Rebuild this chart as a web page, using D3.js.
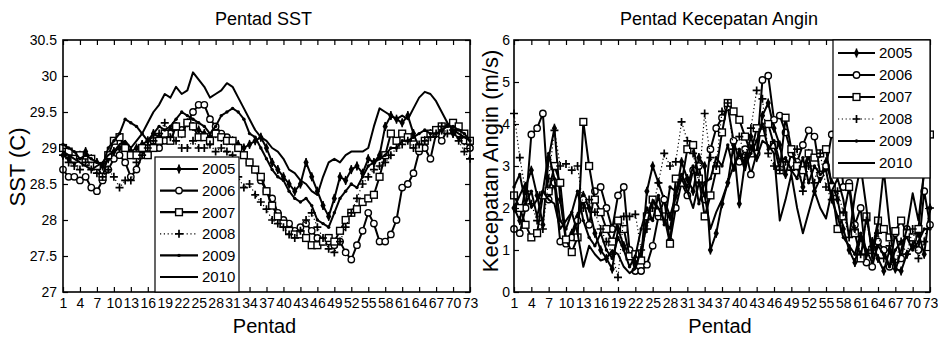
<!DOCTYPE html>
<html><head><meta charset="utf-8">
<script src="https://cdn.jsdelivr.net/npm/d3@7"></script>
<style>body{margin:0;background:#fff}</style></head>
<body><svg id="c" width="938" height="343"></svg>
<script>
const years = ["2005","2006","2007","2008","2009","2010"];
const pentadTicks = [1,4,7,10,13,16,19,22,25,28,31,34,37,40,43,46,49,52,55,58,61,64,67,70,73];
const sstTicks = [27,27.5,28,28.5,29,29.5,30,30.5];
const windTicks = [0,1,2,3,4,5,6];

const sst2005 = [28.9,28.85,28.8,28.9,28.95,28.85,28.8,28.75,28.85,28.95,
29.0,29.05,28.95,29.0,29.05,29.1,29.2,29.15,29.2,29.25,
29.3,29.2,29.35,29.3,29.25,29.2,29.15,29.2,29.15,29.1,
29.1,29.05,29.0,29.05,29.1,29.15,29.0,28.8,28.7,28.6,
28.5,28.4,28.5,28.8,28.6,28.4,28.2,28.05,28.3,28.6,
28.55,28.7,28.75,28.65,28.85,28.8,28.9,29.3,29.45,29.4,
29.35,29.45,29.2,29.0,29.1,29.2,29.2,29.25,29.3,29.2,
29.15,29.1,29.05];
const sst2006 = [28.7,28.6,28.6,28.55,28.6,28.45,28.4,28.55,28.7,28.85,
28.9,28.8,28.6,28.7,28.9,29.0,29.1,29.0,29.1,29.2,
29.3,29.25,29.35,29.5,29.6,29.6,29.4,29.3,29.2,29.15,
29.1,29.0,28.9,28.8,28.7,28.55,28.4,28.3,28.1,28.0,
27.95,27.85,27.9,27.95,27.85,27.75,27.7,27.7,27.65,27.7,
27.55,27.45,27.65,27.85,28.1,27.95,27.7,27.7,27.8,28.0,
28.45,28.5,28.65,28.95,29.0,28.85,29.2,29.1,29.25,29.3,
29.2,29.1,29.0];
const sst2007 = [29.0,28.95,28.85,28.9,28.8,28.85,28.75,28.6,28.9,29.1,
29.15,29.0,28.9,28.9,29.0,28.9,29.0,29.1,29.2,29.1,
29.3,29.2,29.35,29.3,29.15,29.15,29.1,29.2,29.15,29.1,
29.1,29.0,28.9,28.8,28.7,28.6,28.4,28.2,28.05,27.95,
27.85,27.8,27.8,27.75,27.65,27.65,27.7,27.75,27.7,27.85,
28.0,28.1,28.15,28.25,28.3,28.35,28.6,28.9,29.2,29.1,
29.2,29.15,29.05,29.0,29.1,29.2,29.25,29.3,29.25,29.35,
29.3,29.2,29.1];
const sst2008 = [28.9,28.8,28.75,28.7,28.8,28.7,28.65,28.6,28.7,28.6,
28.45,28.55,28.55,28.8,28.9,29.0,29.1,29.2,29.35,29.15,
29.1,29.0,29.0,29.1,29.0,29.0,29.05,28.95,29.0,28.95,
28.9,28.6,28.45,28.5,28.35,28.25,28.15,28.0,27.95,27.9,
27.8,27.75,27.85,28.0,28.1,27.9,27.75,27.6,27.55,27.7,
27.9,28.1,28.3,28.5,28.6,28.7,28.75,28.8,28.9,29.0,
29.05,29.1,29.0,29.05,29.1,29.15,29.2,29.3,29.2,29.25,
29.1,28.95,28.85];
const sst2009 = [29.05,29.0,28.95,28.85,28.9,28.85,28.8,28.75,29.0,29.1,
29.2,29.4,29.35,29.3,29.2,29.1,29.2,29.3,29.25,29.3,
29.4,29.5,29.45,29.4,29.35,29.3,29.2,29.3,29.45,29.5,
29.55,29.5,29.4,29.2,29.15,29.0,28.85,28.7,28.6,28.55,
28.4,28.3,28.25,28.3,28.2,28.0,27.95,27.9,28.1,28.3,
28.4,28.5,28.45,28.6,28.75,28.8,28.85,28.9,29.0,29.0,
29.1,29.1,29.15,29.2,29.25,29.2,29.2,29.25,29.3,29.3,
29.25,29.2,29.1];
const sst2010 = [28.95,28.9,28.85,28.8,28.75,28.7,28.75,28.8,28.9,28.95,
29.05,29.1,29.0,29.1,29.2,29.35,29.5,29.6,29.75,29.7,
29.85,29.75,29.8,30.05,29.95,29.85,29.7,29.75,29.8,29.9,
29.85,29.7,29.55,29.4,29.25,29.15,29.1,29.0,28.95,28.85,
28.7,28.65,28.55,28.5,28.4,28.35,28.6,28.8,28.85,28.8,
28.9,28.95,28.95,28.95,29.0,29.3,29.55,29.5,29.45,29.4,
29.45,29.4,29.55,29.7,29.78,29.75,29.65,29.5,29.35,29.25,
29.2,29.15,29.1];

const wind2005 = [2.0,1.7,2.5,2.9,2.3,1.6,3.2,3.9,2.2,1.2,
1.4,1.8,2.3,2.0,1.4,1.0,0.8,0.55,1.5,1.1,
0.9,0.7,0.8,2.4,3.0,2.6,2.2,1.8,2.3,3.1,
2.7,2.4,3.2,3.0,1.0,1.4,2.1,2.6,3.5,2.1,
3.1,3.7,3.2,4.2,4.5,3.9,3.5,2.8,3.3,3.0,
2.5,3.3,2.4,2.7,3.1,2.6,2.2,1.5,1.0,0.7,
1.3,0.9,1.2,0.8,0.5,1.0,0.55,0.5,0.9,1.1,
1.4,0.9,2.0];
const wind2006 = [1.5,1.4,2.0,3.75,3.9,4.25,2.2,2.6,1.2,1.15,
1.3,1.7,2.2,1.6,2.4,2.5,2.0,1.5,2.3,2.5,
1.0,0.5,0.5,0.65,1.1,1.8,2.2,1.2,2.0,2.6,
2.3,2.9,3.0,2.2,3.4,3.9,4.15,4.4,3.6,3.1,
3.4,2.8,3.3,5.05,5.15,4.1,4.2,3.8,3.3,3.1,
3.5,3.85,3.7,2.8,3.0,3.75,4.0,2.5,2.6,1.6,
2.0,0.7,0.6,1.2,1.0,0.6,1.4,0.8,1.5,1.3,
1.0,2.4,1.6];
const wind2007 = [2.3,2.0,1.6,1.3,1.4,2.3,2.4,3.0,2.6,1.25,
0.95,1.3,4.05,3.0,2.2,1.9,1.5,1.2,1.7,1.5,
0.85,0.9,0.75,1.8,2.2,1.9,1.8,1.15,2.7,2.6,
3.4,3.5,2.7,1.8,2.3,2.9,3.8,4.5,4.3,4.1,
3.7,3.3,3.9,3.8,4.0,3.5,2.9,4.15,3.4,3.0,
2.9,3.3,3.2,3.3,3.4,2.5,1.5,1.8,2.5,1.4,
0.8,1.8,1.0,1.7,1.5,1.3,1.45,1.7,1.4,1.3,
1.5,2.9,3.75];
const wind2008 = [4.25,3.2,2.4,2.1,1.7,1.5,2.7,3.85,3.0,3.05,
2.9,3.0,2.0,2.2,1.9,1.5,1.2,0.9,0.35,1.8,
1.8,1.85,1.0,1.5,2.0,2.6,3.3,3.0,3.1,4.05,
3.6,3.3,2.6,4.25,3.2,3.0,4.3,4.5,3.4,3.7,
3.2,3.9,4.8,4.6,3.3,3.0,2.9,3.1,2.9,3.4,
2.4,3.0,2.6,3.3,2.5,2.2,2.4,1.9,1.3,1.5,
0.9,1.7,1.0,1.4,0.8,1.1,0.7,1.2,0.9,1.5,
0.8,1.2,2.0];
const wind2009 = [2.5,2.8,2.1,2.4,1.8,2.4,3.3,2.7,1.7,1.5,
1.9,2.4,1.7,1.3,1.1,1.4,1.0,0.8,1.3,1.0,
0.6,0.85,1.5,2.0,1.7,2.3,1.6,2.5,2.4,2.8,
2.5,3.0,2.1,2.6,2.7,3.2,3.0,3.5,2.9,3.4,
3.0,3.3,3.6,4.0,3.4,3.6,3.1,3.2,2.9,2.7,
3.2,2.6,3.0,2.8,2.9,2.2,1.8,1.3,1.1,0.9,
1.4,1.0,0.7,1.1,0.9,0.6,1.0,1.2,1.3,1.0,
1.2,1.5,1.5];
const wind2010 = [2.0,2.3,2.6,2.0,2.2,2.4,2.2,2.1,1.5,1.7,
1.9,1.4,0.6,1.1,0.9,0.75,0.8,1.0,0.9,0.6,
0.45,0.55,1.0,1.6,2.2,2.0,1.7,1.5,2.3,2.7,
2.4,2.0,2.6,2.3,1.5,1.9,2.2,2.6,3.0,3.3,
2.9,3.5,3.2,3.6,3.5,3.3,1.7,2.2,2.8,2.0,
1.4,1.9,2.4,2.0,1.75,2.4,2.7,2.2,1.3,2.3,
3.0,2.0,0.8,1.6,2.9,1.6,0.5,1.0,1.5,2.35,
1.7,2.9,3.0];

const sstSeries = [sst2005,sst2006,sst2007,sst2008,sst2009,sst2010];
const windSeries = [wind2005,wind2006,wind2007,wind2008,wind2009,wind2010];

const styles = [
  {marker:"diamond", dash:null},
  {marker:"circle", dash:null},
  {marker:"square", dash:null},
  {marker:"plus", dash:"1.2,2.6"},
  {marker:"dot", dash:null},
  {marker:null, dash:null}
];

const svg = d3.select("#c");
const tickFont = "'Liberation Sans Narrow','Arial Narrow',sans-serif";
const labelFont = "'Liberation Sans',Arial,sans-serif";

function drawMarker(g, type, x, y) {
  if (type === "circle") {
    g.append("circle").attr("cx", x).attr("cy", y).attr("r", 3.2)
      .attr("fill", "#fff").attr("stroke", "#000").attr("stroke-width", 1.4);
  } else if (type === "square") {
    g.append("rect").attr("x", x - 3.4).attr("y", y - 3.4).attr("width", 6.8).attr("height", 6.8)
      .attr("fill", "#fff").attr("stroke", "#000").attr("stroke-width", 1.4);
  } else if (type === "plus") {
    g.append("path").attr("d", `M${x-4},${y}H${x+4}M${x},${y-4}V${y+4}`)
      .attr("stroke", "#000").attr("stroke-width", 1.7);
  } else if (type === "diamond") {
    g.append("path").attr("d", d3.symbol(d3.symbolDiamond, 24)()).attr("transform", `translate(${x},${y})`)
      .attr("fill", "#000");
    g.append("path").attr("d", `M${x},${y-4.5}V${y+4.5}`).attr("stroke", "#000").attr("stroke-width", 1.5);
  } else if (type === "dot") {
    g.append("circle").attr("cx", x).attr("cy", y).attr("r", 1.7).attr("fill", "#000");
  }
}

function panel(cfg) {
  const x = d3.scaleLinear().domain([1, 73]).range([cfg.x0, cfg.x1]);
  const y = d3.scaleLinear().domain(cfg.yDomain).range([cfg.y1, cfg.y0]);
  const g = svg.append("g");
  const clipId = "clip" + cfg.id;
  svg.append("clipPath").attr("id", clipId).append("rect")
    .attr("x", cfg.x0 - 4).attr("y", cfg.y0).attr("width", cfg.x1 - cfg.x0 + 8).attr("height", cfg.y1 - cfg.y0);

  const plot = g.append("g").attr("clip-path", `url(#${clipId})`);
  const line = d3.line().x((d, i) => x(i + 1)).y(d => y(d));
  cfg.series.forEach((s, k) => {
    const st = styles[k];
    plot.append("path").attr("d", line(s)).attr("fill", "none").attr("stroke", "#000")
      .attr("stroke-width", st.dash ? 1.2 : 2.0).attr("stroke-dasharray", st.dash)
      .attr("stroke-linejoin", "round");
    if (st.marker) s.forEach((v, i) => drawMarker(plot, st.marker, x(i + 1), y(v)));
  });

  const fmt = v => (v % 1 === 0 ? String(v) : v.toFixed(1));
  const axB = g.append("g").attr("transform", `translate(0,${cfg.y1})`)
    .call(d3.axisBottom(x).tickValues(pentadTicks).tickSizeInner(-5).tickSizeOuter(0).tickPadding(10));
  const axT = g.append("g").attr("transform", `translate(0,${cfg.y0})`)
    .call(d3.axisTop(x).tickValues(pentadTicks).tickSizeInner(-5).tickSizeOuter(0).tickFormat(""));
  const axL = g.append("g").attr("transform", `translate(${cfg.x0},0)`)
    .call(d3.axisLeft(y).tickValues(cfg.yTicks).tickSizeInner(-5).tickSizeOuter(0).tickPadding(cfg.yPad).tickFormat(fmt));
  const axR = g.append("g").attr("transform", `translate(${cfg.x1},0)`)
    .call(d3.axisRight(y).tickValues(cfg.yTicks).tickSizeInner(-5).tickSizeOuter(0).tickFormat(""));
  [axB, axT, axL, axR].forEach(a => {
    a.select(".domain").remove();
    a.selectAll("line").attr("stroke", "#000").attr("stroke-width", 1.2);
    a.selectAll("text").attr("font-family", tickFont).attr("font-size", 14).attr("fill", "#000");
  });
  axB.selectAll("text").attr("dy", "0.45em");
  g.append("rect").attr("x", cfg.x0).attr("y", cfg.y0).attr("width", cfg.x1 - cfg.x0).attr("height", cfg.y1 - cfg.y0)
    .attr("fill", "none").attr("stroke", "#000").attr("stroke-width", 1.6);

  const L = cfg.legend;
  const lg = g.append("g");
  lg.append("rect").attr("x", L.x).attr("y", L.y).attr("width", L.w).attr("height", L.h)
    .attr("fill", "#fff").attr("stroke", "#000").attr("stroke-width", 1.2);
  years.forEach((yr, k) => {
    const yy = L.y + L.first + k * L.step;
    const st = styles[k];
    lg.append("line").attr("x1", L.x + 5).attr("x2", L.x + 5 + L.len).attr("y1", yy).attr("y2", yy)
      .attr("stroke", "#000").attr("stroke-width", st.dash ? 1.2 : 2.2).attr("stroke-dasharray", st.dash);
    if (st.marker) drawMarker(lg, st.marker, L.x + 5 + L.len / 2, yy);
    lg.append("text").attr("x", L.x + 9 + L.len).attr("y", yy).attr("dy", "0.36em")
      .attr("font-family", tickFont).attr("font-size", 15).text(yr);
  });

  const cx = (cfg.x0 + cfg.x1) / 2;
  g.append("text").attr("x", cx - 3).attr("y", 25).attr("text-anchor", "middle")
    .attr("font-family", labelFont).attr("font-size", 18).text(cfg.title);
  g.append("text").attr("x", cx - 2).attr("y", 333).attr("text-anchor", "middle")
    .attr("font-family", labelFont).attr("font-size", 20).text("Pentad");
  g.append("text").attr("transform", `translate(${cfg.ylx},${cfg.yly}) rotate(-90)`).attr("text-anchor", "middle")
    .attr("font-family", labelFont).attr("font-size", cfg.ylSize).text(cfg.ylabel);
}

panel({id: "a", x0: 63, x1: 470, y0: 40, y1: 292, yDomain: [27, 30.5], yTicks: sstTicks, yPad: 6,
  series: sstSeries, title: "Pentad SST", ylabel: "SST (C)", ylx: 25, yly: 167, ylSize: 22,
  legend: {x: 155, y: 157, w: 84, h: 135, first: 12, step: 21.6, len: 38}});
panel({id: "b", x0: 514, x1: 930, y0: 40, y1: 292, yDomain: [0, 6], yTicks: windTicks, yPad: 4,
  series: windSeries, title: "Pentad Kecepatan Angin", ylabel: "Kecepatan Angin (m/s)", ylx: 498, yly: 161, ylSize: 22,
  legend: {x: 833, y: 40, w: 97, h: 138, first: 13, step: 22, len: 37}});
</script></body></html>
